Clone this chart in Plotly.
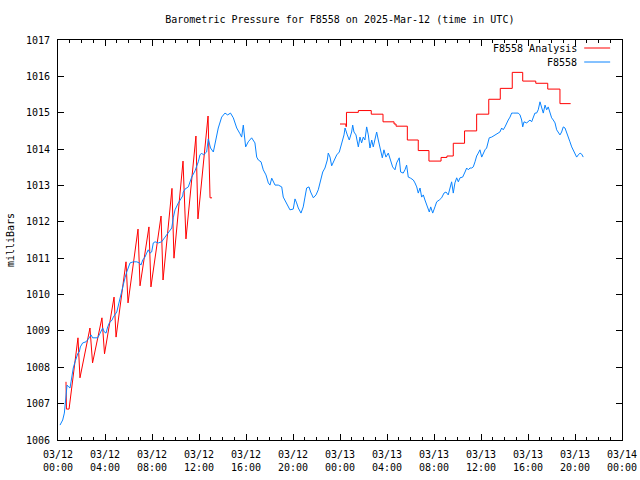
import plotly.graph_objects as go

# ---- data (hours since 2025-03-12 00:00 UTC, pressure in mb) ----
analysis_t1 = [0.68, 0.72, 0.94, 1.70, 1.87, 2.72, 2.94, 3.74, 3.96, 4.77, 4.94, 5.79, 5.96,
               6.81, 6.98, 7.74, 7.91, 8.77, 8.94, 9.70, 9.87, 10.64, 10.89, 11.74, 11.91,
               12.77, 12.94, 13.11]
analysis_p1 = [1007.60, 1006.85, 1006.85, 1008.81, 1007.71, 1009.08, 1008.12, 1009.36, 1008.37,
               1009.93, 1008.83, 1010.90, 1009.77, 1011.80, 1010.24, 1011.86, 1010.21, 1012.16,
               1010.40, 1012.92, 1011.00, 1013.67, 1011.53, 1014.36, 1012.08, 1014.91, 1012.66,
               1012.66]

analysis_t2 = [24.0, 24.5, 24.55, 25.56, 26.66, 27.66, 28.6, 28.77, 29.73, 30.66, 31.57, 32.6,
               33.1, 33.64, 34.6, 35.63, 36.66, 37.64, 38.66, 39.55, 40.66, 41.68, 42.72, 43.63]
analysis_p2 = [1014.69, 1014.62, 1015.01, 1015.06, 1014.96, 1014.75, 1014.69, 1014.63, 1014.25,
               1013.96, 1013.67, 1013.77, 1013.81, 1014.16, 1014.50, 1014.96, 1015.37, 1015.67,
               1016.11, 1015.87, 1015.81, 1015.65, 1015.25, 1015.25]

obs_t = [0.17, 0.40, 0.54, 0.62, 0.68, 0.77, 0.91, 1.02, 1.11, 1.19, 1.30, 1.45, 1.59, 1.70,
         1.81, 1.90, 2.10, 2.38, 2.66, 2.81, 2.95, 3.38, 3.51, 3.66, 3.80, 3.94, 4.09, 4.23,
         4.37, 4.60, 4.71, 5.00, 5.13, 5.28, 5.42, 5.56, 5.70, 5.85, 6.13, 6.41, 6.70, 6.92,
         7.06, 7.21, 7.40, 7.55, 7.68, 7.83, 7.97, 8.11, 8.26, 8.54, 8.82, 9.11, 9.39, 9.68,
         9.81, 9.96, 10.24, 10.38, 10.61, 10.66, 10.81, 11.09, 11.38, 11.66, 11.94, 12.08,
         12.23, 12.37, 12.65, 12.79, 12.98, 13.22, 13.45, 13.64, 13.93, 14.21, 14.44, 14.68,
         14.92, 15.21, 15.49, 15.63, 15.77, 15.85, 15.97, 16.19, 16.48, 16.76, 16.91, 17.05,
         17.28, 17.47, 17.70, 17.90, 18.04, 18.19, 18.32, 18.47, 18.75, 19.04, 19.17, 19.46,
         19.74, 20.02, 20.17, 20.31, 20.45, 20.68, 20.87, 21.02, 21.16, 21.36, 21.50, 21.73,
         21.96, 22.15, 22.36, 22.53, 22.72, 22.92, 23.00, 23.15, 23.29, 23.49, 23.72, 23.94,
         24.06, 24.23, 24.34, 24.43, 24.51, 24.62, 24.79, 24.99, 25.08, 25.19, 25.36, 25.47,
         25.56, 25.70, 25.84, 25.98, 26.12, 26.27, 26.41, 26.55, 26.70, 26.83, 26.98, 27.12,
         27.26, 27.40, 27.60, 27.74, 27.91, 28.11, 28.31, 28.48, 28.68, 28.82, 29.04, 29.16,
         29.38, 29.53, 29.67, 29.81, 30.01, 30.24, 30.38, 30.53, 30.66, 30.81, 30.95, 31.09,
         31.23, 31.43, 31.60, 31.72, 31.89, 32.08, 32.23, 32.45, 32.65, 32.85, 33.02, 33.21,
         33.36, 33.50, 33.64, 33.78, 33.93, 34.07, 34.21, 34.44, 34.64, 34.78, 34.92, 35.06,
         35.21, 35.34, 35.49, 35.63, 35.77, 35.91, 36.06, 36.19, 36.34, 36.48, 36.62, 36.70,
         36.91, 37.19, 37.38, 37.61, 37.76, 37.89, 38.04, 38.18, 38.32, 38.47, 38.61, 38.75,
         39.04, 39.17, 39.32, 39.46, 39.55, 39.66, 39.89, 40.02, 40.17, 40.31, 40.45, 40.59,
         40.73, 40.87, 41.02, 41.16, 41.30, 41.45, 41.59, 41.72, 41.87, 42.01, 42.15, 42.30,
         42.44, 42.58, 42.72, 42.86, 43.00, 43.15, 43.29, 43.43, 43.57, 43.72, 43.85, 44.00,
         44.14, 44.28, 44.43, 44.57, 44.70]
obs_p = [1006.41, 1006.55, 1006.74, 1007.02, 1007.24, 1007.51, 1007.46, 1007.43, 1007.60,
         1007.84, 1007.98, 1008.15, 1008.28, 1008.39, 1008.42, 1008.56, 1008.67, 1008.70,
         1008.81, 1008.89, 1008.81, 1008.81, 1008.89, 1008.97, 1009.08, 1008.97, 1008.94,
         1009.11, 1009.22, 1009.30, 1009.38, 1009.52, 1009.71, 1009.91, 1010.07, 1010.32,
         1010.46, 1010.62, 1010.87, 1010.90, 1010.90, 1010.87, 1010.81, 1010.95, 1011.03,
         1011.14, 1011.23, 1011.14, 1011.17, 1011.42, 1011.45, 1011.42, 1011.45, 1011.58,
         1011.69, 1011.83, 1012.11, 1012.33, 1012.52, 1012.60, 1012.71, 1012.82, 1012.90,
         1012.96, 1013.23, 1013.40, 1013.65, 1013.84, 1013.89, 1013.84, 1013.92, 1014.28,
         1014.03, 1013.92, 1014.33, 1014.58, 1014.88, 1014.99, 1014.94, 1014.99, 1014.86,
         1014.58, 1014.42, 1014.33, 1014.66, 1014.47, 1014.06, 1014.20, 1014.31, 1014.17,
         1013.78, 1013.70, 1013.65, 1013.43, 1013.29, 1013.07, 1013.01, 1013.20, 1013.10,
         1013.01, 1013.01, 1012.96, 1012.68, 1012.52, 1012.33, 1012.35, 1012.63, 1012.52,
         1012.38, 1012.24, 1012.41, 1012.68, 1012.93, 1012.96, 1012.82, 1012.66, 1012.74,
         1012.88, 1013.15, 1013.37, 1013.48, 1013.70, 1013.89, 1013.78, 1013.54, 1013.70,
         1013.84, 1013.92, 1014.06, 1014.25, 1014.39, 1014.58, 1014.47, 1014.39, 1014.25,
         1014.47, 1014.66, 1014.47, 1014.39, 1014.25, 1014.06, 1014.33, 1014.17, 1014.33,
         1014.25, 1014.61, 1014.39, 1014.03, 1014.25, 1014.06, 1014.33, 1014.47, 1014.25,
         1014.03, 1013.76, 1013.98, 1013.78, 1013.89, 1013.70, 1013.51, 1013.43, 1013.62,
         1013.76, 1013.37, 1013.34, 1013.43, 1013.56, 1013.23, 1013.20, 1013.15, 1013.07,
         1012.96, 1012.79, 1012.93, 1012.68, 1012.74, 1012.60, 1012.41, 1012.27, 1012.41,
         1012.24, 1012.41, 1012.55, 1012.60, 1012.66, 1012.79, 1012.82, 1012.74, 1012.96,
         1013.10, 1012.79, 1013.07, 1013.21, 1013.10, 1013.21, 1013.23, 1013.37, 1013.48,
         1013.43, 1013.48, 1013.48, 1013.51, 1013.65, 1013.81, 1013.89, 1013.98, 1013.78,
         1013.89, 1013.98, 1014.03, 1014.17, 1014.31, 1014.33, 1014.39, 1014.44, 1014.47,
         1014.58, 1014.53, 1014.61, 1014.72, 1014.80, 1014.88, 1014.99, 1014.99, 1014.99,
         1014.99, 1014.94, 1014.80, 1014.61, 1014.75, 1014.72, 1014.75, 1014.80, 1014.75,
         1014.88, 1014.99, 1014.99, 1015.08, 1015.30, 1015.16, 1014.99, 1015.21, 1015.08,
         1015.16, 1014.99, 1014.86, 1014.80, 1014.72, 1014.53, 1014.47, 1014.39, 1014.47,
         1014.61, 1014.58, 1014.47, 1014.33, 1014.20, 1014.06, 1013.98, 1013.89, 1013.78,
         1013.84, 1013.89, 1013.86, 1013.78]

x_tickvals = [0, 4, 8, 12, 16, 20, 24, 28, 32, 36, 40, 44, 48]
x_ticktext = ["03/12<br>00:00", "03/12<br>04:00", "03/12<br>08:00", "03/12<br>12:00",
              "03/12<br>16:00", "03/12<br>20:00", "03/13<br>00:00", "03/13<br>04:00",
              "03/13<br>08:00", "03/13<br>12:00", "03/13<br>16:00", "03/13<br>20:00",
              "03/14<br>00:00"]
y_tickvals = list(range(1006, 1018))

RED = "#ff0000"
BLUE = "#0a84ff"
FONT = "DejaVu Sans Mono"

fig = go.Figure()
fig.add_trace(go.Scatter(x=analysis_t1, y=analysis_p1, mode="lines",
                         line=dict(color=RED, width=1), showlegend=False))
fig.add_trace(go.Scatter(x=analysis_t2, y=analysis_p2, mode="lines",
                         line=dict(color=RED, width=1, shape="hv"), showlegend=False))
fig.add_trace(go.Scatter(x=obs_t, y=obs_p, mode="lines",
                         line=dict(color=BLUE, width=1), showlegend=False))

axis_common = dict(showline=True, linecolor="black", linewidth=1, mirror="allticks",
                   ticks="inside", tickcolor="black", tickwidth=1, showgrid=False,
                   zeroline=False, automargin=False,
                   tickfont=dict(family=FONT, size=10, color="black"))

fig.update_xaxes(range=[0, 48], tickvals=x_tickvals, ticktext=x_ticktext, ticklen=6,
                 ticklabelstandoff=5,
                 minor=dict(ticks="inside", dtick=1, ticklen=3, tickcolor="black", showgrid=False),
                 **axis_common)
fig.update_yaxes(range=[1006, 1017], tickvals=y_tickvals, ticklen=6, ticklabelstandoff=5,
                 **axis_common)

# legend (gnuplot style: text then sample)
legend_rows = [("F8558 Analysis", RED, 0.98), ("F8558", BLUE, 0.945)]
for label, col, yy in legend_rows:
    fig.add_annotation(xref="paper", yref="paper", x=0.924, y=yy, text=label,
                       showarrow=False, xanchor="right", yanchor="middle",
                       font=dict(family=FONT, size=10, color="black"))
    fig.add_shape(type="line", xref="paper", yref="paper", x0=0.933, x1=0.979, y0=yy, y1=yy,
                  line=dict(color=col, width=1))

fig.add_annotation(xref="paper", yref="paper", x=-0.085, y=0.5, text="milliBars",
                   textangle=-90, showarrow=False, xanchor="center", yanchor="middle",
                   font=dict(family=FONT, size=10, color="black"))

fig.update_layout(
    width=640, height=480,
    margin=dict(l=58, r=18, t=40, b=40),
    paper_bgcolor="white", plot_bgcolor="white",
    title=dict(text="Barometric Pressure for F8558 on 2025-Mar-12 (time in UTC)",
               x=0.531, xanchor="center", y=0.96, yanchor="middle",
               font=dict(family=FONT, size=10, color="black")),
    showlegend=False,
)

fig.write_html("out.html", config={"displayModeBar": False},
               post_script="document.body.style.margin='0';document.body.style.overflow='hidden';")
